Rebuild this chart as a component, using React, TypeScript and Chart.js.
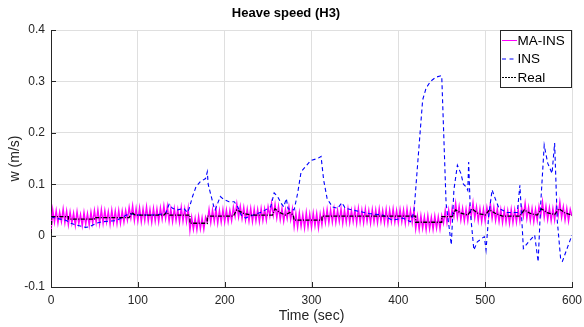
import React, { useEffect, useRef } from "react";
import { Chart, registerables } from "chart.js";

Chart.register(...registerables);

const FONT = "'Liberation Sans', Arial, sans-serif";

const xTicks = [0, 100, 200, 300, 400, 500, 600];
const yTicks = [-0.1, 0, 0.1, 0.2, 0.3, 0.4];

// MA-INS samples every 2 s (t = 0..600)
const maStep = 2;
const maIns = [
  0.008, 0.050, 0.026, 0.049, 0.024, 0.046, 0.027, 0.052, 0.025, 0.048,
  0.021, 0.046, 0.024, 0.044, 0.020, 0.047, 0.023, 0.041, 0.019, 0.045,
  0.022, 0.043, 0.020, 0.046, 0.024, 0.049, 0.025, 0.050, 0.023, 0.051,
  0.024, 0.049, 0.026, 0.047, 0.022, 0.050, 0.025, 0.048, 0.023, 0.049,
  0.024, 0.048, 0.026, 0.049, 0.030, 0.055, 0.034, 0.058, 0.029, 0.053,
  0.028, 0.054, 0.027, 0.052, 0.029, 0.056, 0.028, 0.051, 0.026, 0.053,
  0.028, 0.052, 0.027, 0.054, 0.032, 0.058, 0.033, 0.057, 0.028, 0.052,
  0.027, 0.053, 0.029, 0.051, 0.026, 0.055, 0.028, 0.052, 0.027, 0.053,
  0.010, 0.036, 0.012, 0.034, 0.011, 0.037, 0.013, 0.035, 0.012, 0.036,
  0.026, 0.051, 0.025, 0.050, 0.027, 0.052, 0.024, 0.049, 0.026, 0.051,
  0.026, 0.050, 0.027, 0.049, 0.029, 0.055, 0.037, 0.062, 0.036, 0.057,
  0.033, 0.055, 0.030, 0.052, 0.028, 0.053, 0.027, 0.052, 0.028, 0.051,
  0.027, 0.053, 0.029, 0.052, 0.030, 0.056, 0.038, 0.063, 0.039, 0.061,
  0.034, 0.057, 0.031, 0.053, 0.028, 0.051, 0.033, 0.056, 0.031, 0.052,
  0.017, 0.043, 0.016, 0.044, 0.018, 0.041, 0.015, 0.045, 0.017, 0.042,
  0.016, 0.044, 0.019, 0.043, 0.015, 0.042, 0.021, 0.048, 0.025, 0.051,
  0.025, 0.050, 0.026, 0.052, 0.025, 0.049, 0.027, 0.052, 0.024, 0.050,
  0.026, 0.052, 0.025, 0.049, 0.027, 0.051, 0.024, 0.053, 0.026, 0.050,
  0.025, 0.052, 0.027, 0.049, 0.024, 0.051, 0.026, 0.050, 0.025, 0.052,
  0.027, 0.049, 0.025, 0.051, 0.024, 0.050, 0.027, 0.052, 0.026, 0.049,
  0.025, 0.051, 0.027, 0.050, 0.024, 0.052, 0.026, 0.049, 0.025, 0.051,
  0.013, 0.038, 0.012, 0.039, 0.014, 0.037, 0.011, 0.039, 0.013, 0.036,
  0.012, 0.038, 0.014, 0.037, 0.013, 0.039, 0.024, 0.049, 0.025, 0.050,
  0.027, 0.054, 0.037, 0.063, 0.035, 0.057, 0.030, 0.053, 0.028, 0.052,
  0.029, 0.056, 0.038, 0.064, 0.034, 0.056, 0.029, 0.053, 0.027, 0.052,
  0.028, 0.055, 0.037, 0.062, 0.033, 0.055, 0.029, 0.052, 0.027, 0.051,
  0.025, 0.050, 0.026, 0.049, 0.024, 0.051, 0.025, 0.050, 0.026, 0.052,
  0.028, 0.055, 0.037, 0.063, 0.033, 0.055, 0.029, 0.053, 0.027, 0.051,
  0.029, 0.057, 0.039, 0.066, 0.035, 0.057, 0.031, 0.054, 0.029, 0.053,
  0.030, 0.057, 0.038, 0.065, 0.035, 0.056, 0.030, 0.053, 0.028, 0.051,
  0.038,
];

const insT = [
  0, 5, 17, 23, 28, 40, 44, 52, 59, 75,
  84, 90, 100, 120, 132, 136, 140, 146, 153, 157,
  159, 163, 167, 172, 178, 180, 181, 188, 189, 195,
  199, 205, 211, 215, 219, 224, 228, 243, 253, 257,
  261, 265, 268, 271, 273, 280, 284, 288, 293, 299,
  307, 311, 314, 318, 324, 330, 335, 339, 347, 366,
  382, 393, 405, 414, 418, 422, 428, 432, 437, 443,
  449, 450, 455, 461, 464, 468, 472, 475, 478, 480,
  481, 483, 487, 491, 499, 501, 504, 508, 512, 516,
  525, 537, 540, 544, 550, 557, 561, 564, 568, 572,
  577, 580, 583, 587, 589, 595, 600,
];
const insV = [
  0.037, 0.034, 0.030, 0.024, 0.021, 0.016, 0.017, 0.024, 0.027, 0.029,
  0.037, 0.043, 0.040, 0.040, 0.043, 0.061, 0.053, 0.050, 0.053, 0.045,
  0.052, 0.076, 0.095, 0.105, 0.111, 0.124, 0.100, 0.053, 0.050, 0.076,
  0.070, 0.066, 0.066, 0.056, 0.040, 0.034, 0.037, 0.046, 0.056, 0.083,
  0.076, 0.063, 0.056, 0.072, 0.052, 0.050, 0.082, 0.124, 0.134, 0.146,
  0.150, 0.154, 0.108, 0.072, 0.056, 0.053, 0.064, 0.053, 0.050, 0.043,
  0.040, 0.030, 0.034, 0.027, 0.046, 0.134, 0.264, 0.287, 0.300, 0.308,
  0.311, 0.310, 0.063, -0.018, 0.089, 0.137, 0.121, 0.100, 0.095, 0.088,
  0.143, 0.044, -0.028, -0.012, -0.002, -0.028, 0.037, 0.089, 0.070, 0.053,
  0.045, 0.045, 0.098, -0.025, -0.012, 0.001, -0.051, 0.063, 0.176, 0.141,
  0.121, 0.180, 0.030, -0.047, -0.050, -0.022, 0.001,
];

const realT = [
  0, 1, 20, 20, 50, 50, 90, 93, 97, 130,
  133, 137, 160, 160, 180, 180, 210, 214, 222, 230,
  255, 258, 263, 270, 275, 279, 280, 312, 312, 420,
  420, 450, 450, 462, 466, 473, 480, 485, 492, 500,
  505, 512, 520, 540, 545, 552, 560, 565, 572, 580,
  585, 592, 600,
];
const realV = [
  0.005, 0.037, 0.037, 0.032, 0.032, 0.035, 0.035, 0.045, 0.040, 0.040,
  0.045, 0.040, 0.040, 0.024, 0.024, 0.038, 0.038, 0.050, 0.043, 0.040,
  0.040, 0.052, 0.045, 0.040, 0.045, 0.040, 0.030, 0.030, 0.038, 0.038,
  0.026, 0.026, 0.037, 0.037, 0.050, 0.043, 0.040, 0.052, 0.043, 0.040,
  0.050, 0.043, 0.038, 0.038, 0.050, 0.043, 0.040, 0.052, 0.044, 0.041,
  0.052, 0.044, 0.040,
];

const legendItems = [
  { label: "MA-INS", color: "#ff00ff", dash: [] as number[] },
  { label: "INS", color: "#0000ff", dash: [4, 3.5] },
  { label: "Real", color: "#000000", dash: [2, 1] },
];

const AXIS = "#262626";

const overlayPlugin = {
  id: "overlay",
  afterDraw(chart: any) {
    const { ctx, chartArea, scales } = chart;
    const x = scales.x;
    const y = scales.y;
    ctx.save();
    // inward tick marks
    ctx.strokeStyle = AXIS;
    ctx.lineWidth = 1;
    ctx.setLineDash([]);
    ctx.beginPath();
    xTicks.forEach((t) => {
      const px = Math.round(x.getPixelForValue(t)) + 0.5;
      ctx.moveTo(px, chartArea.bottom);
      ctx.lineTo(px, chartArea.bottom - 5);
    });
    yTicks.forEach((t) => {
      const py = Math.round(y.getPixelForValue(t)) + 0.5;
      ctx.moveTo(chartArea.left, py);
      ctx.lineTo(chartArea.left + 5, py);
    });
    ctx.stroke();

    // legend
    const bx = 500.5;
    const by = 30.5;
    const bw = 71;
    const bh = 57;
    ctx.fillStyle = "#ffffff";
    ctx.fillRect(bx, by, bw, bh);
    ctx.strokeStyle = AXIS;
    ctx.strokeRect(bx, by, bw, bh);
    ctx.font = `13.5px ${FONT}`;
    ctx.textBaseline = "middle";
    ctx.textAlign = "left";
    legendItems.forEach((it, i) => {
      const ly = 40.5 + i * 18.5;
      ctx.strokeStyle = it.color;
      ctx.setLineDash(it.dash);
      ctx.beginPath();
      ctx.moveTo(bx + 1.5, ly);
      ctx.lineTo(bx + 16.5, ly);
      ctx.stroke();
      ctx.setLineDash([]);
      ctx.fillStyle = "#000000";
      ctx.fillText(it.label, bx + 17, ly + 0.5);
    });
    ctx.restore();
  },
};

export default function App() {
  const ref = useRef<HTMLCanvasElement | null>(null);

  useEffect(() => {
    if (!ref.current) return;
    const maData = maIns.map((v, i) => ({ x: i * maStep, y: v }));
    const insData = insT.map((t, i) => ({ x: t, y: insV[i] }));
    const realData = realT.map((t, i) => ({ x: t, y: realV[i] }));

    const chart = new Chart(ref.current, {
      type: "line",
      data: {
        datasets: [
          {
            label: "MA-INS",
            data: maData,
            borderColor: "#ff00ff",
            borderWidth: 1.4,
            pointRadius: 0,
            tension: 0,
            order: 3,
          },
          {
            label: "INS",
            data: insData,
            borderColor: "#0000ff",
            borderWidth: 1.1,
            borderDash: [4, 3],
            pointRadius: 0,
            tension: 0,
            order: 2,
          },
          {
            label: "Real",
            data: realData,
            borderColor: "#000000",
            borderWidth: 1.3,
            borderDash: [4, 1.5, 1, 1.5],
            pointRadius: 0,
            tension: 0,
            order: 1,
          },
        ],
      },
      options: {
        animation: false,
        responsive: false,
        maintainAspectRatio: false,
        layout: { padding: { left: 0, right: 12, top: 0, bottom: 0 } },
        plugins: {
          legend: { display: false },
          tooltip: { enabled: false },
          title: {
            display: true,
            text: "Heave speed (H3)",
            color: "#000000",
            font: { family: FONT, size: 13, weight: "bold", lineHeight: 1.2 },
            padding: { top: 6, bottom: 8.4 },
          },
        },
        scales: {
          x: {
            type: "linear",
            min: 0,
            max: 600,
            afterFit: (s: any) => {
              s.height = 40;
              s.paddingLeft = 0;
              s.paddingRight = 0;
            },
            afterBuildTicks: (s: any) => {
              s.ticks = xTicks.map((v) => ({ value: v }));
            },
            ticks: {
              color: AXIS,
              font: { family: FONT, size: 12 },
              padding: 6,
              maxRotation: 0,
              autoSkip: false,
            },
            grid: { color: "#dfdfdf", drawTicks: false, lineWidth: 1 },
            border: { display: true, color: AXIS, width: 1 },
            title: {
              display: true,
              text: "Time (sec)",
              color: AXIS,
              font: { family: FONT, size: 14, lineHeight: 1.2 },
              padding: { top: 0, bottom: 2 },
            },
          },
          y: {
            type: "linear",
            min: -0.1,
            max: 0.4,
            afterFit: (s: any) => {
              s.width = 51;
              s.paddingTop = 0;
              s.paddingBottom = 0;
            },
            afterBuildTicks: (s: any) => {
              s.ticks = yTicks.map((v) => ({ value: v }));
            },
            ticks: {
              color: AXIS,
              font: { family: FONT, size: 12 },
              padding: 6,
              callback: (v: any) => String(Number(Number(v).toFixed(1))),
            },
            grid: { color: "#dfdfdf", drawTicks: false, lineWidth: 1 },
            border: { display: true, color: AXIS, width: 1 },
            title: {
              display: true,
              text: "w (m/s)",
              color: AXIS,
              font: { family: FONT, size: 14, lineHeight: 1.2 },
              padding: { top: 7, bottom: 0 },
            },
          },
        },
      },
      plugins: [overlayPlugin],
    });
    return () => chart.destroy();
  }, []);

  return (
    <div style={{ position: "fixed", left: 0, top: 0, width: 584, height: 327, background: "#ffffff" }}>
      <canvas ref={ref} width={584} height={327} style={{ width: 584, height: 327, display: "block" }} />
    </div>
  );
}
